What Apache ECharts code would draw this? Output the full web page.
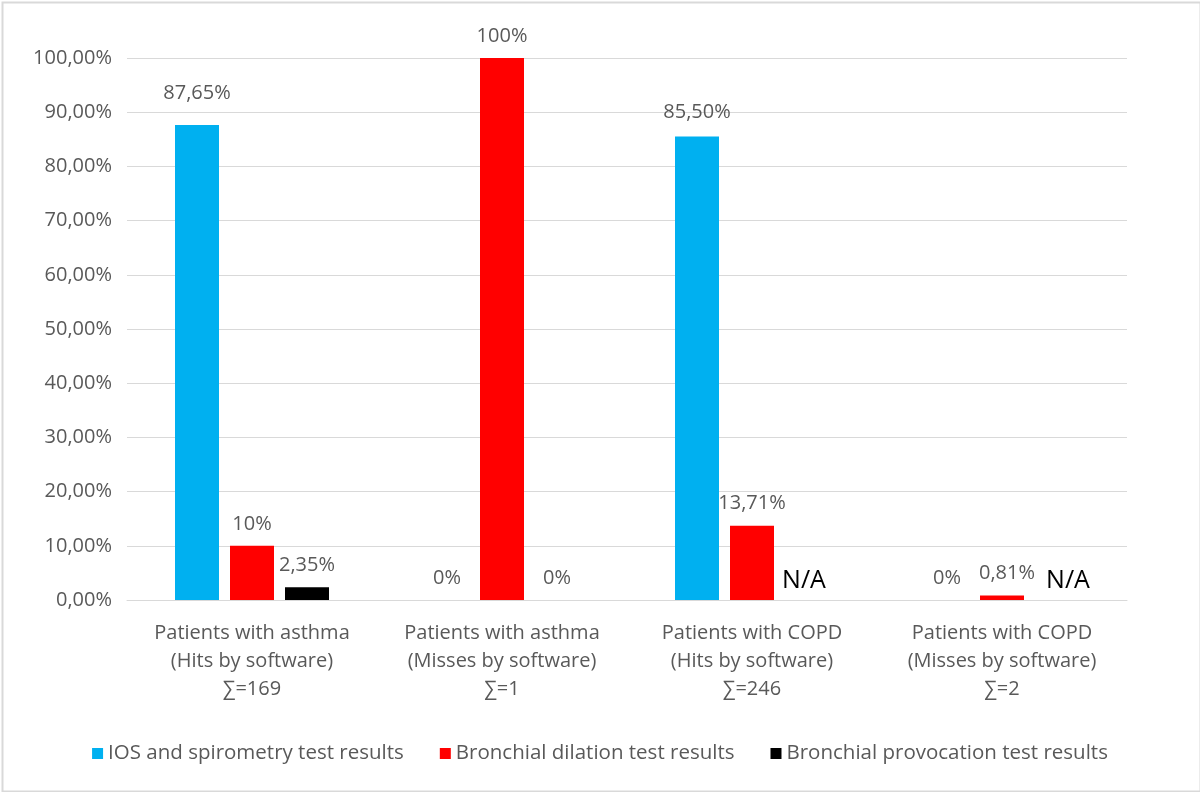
<!DOCTYPE html>
<html>
<head>
<meta charset="utf-8">
<script src="https://cdn.jsdelivr.net/npm/echarts@6/dist/echarts.min.js"></script>
<style>
html,body{margin:0;padding:0;background:#fff;}
#chart{width:1200px;height:792px;}
</style>
</head>
<body>
<div id="chart"></div>
<script>
const categories = [
  'Patients with asthma\n(Hits by software)\n∑=169',
  'Patients with asthma\n(Misses by software)\n∑=1',
  'Patients with COPD\n(Hits by software)\n∑=246',
  'Patients with COPD\n(Misses by software)\n∑=2'
];
const seriesNames = ['IOS and spirometry test results', 'Bronchial dilation test results', 'Bronchial provocation test results'];
const iosValues = [87.65, 0, 85.50, 0];
const dilationValues = [10, 100, 13.71, 0.81];
const provocationValues = [2.35, 0, 0, 0];
const iosLabels = ['87,65%', '0%', '85,50%', '0%'];
const dilationLabels = ['10%', '100%', '13,71%', '0,81%'];
const provocationLabels = ['2,35%', '0%', 'N/A', 'N/A'];
const yTicks = [0, 10, 20, 30, 40, 50, 60, 70, 80, 90, 100];

const FONT = '"Open Sans", sans-serif';
const colors = ['#00B0F0', '#FF0000', '#000000'];

function buildData(values, labels, extra) {
  return values.map((v, i) => {
    const lab = labels[i];
    const item = { value: v, label: { formatter: lab } };
    if (lab === 'N/A') {
      item.label.color = '#000';
      item.label.fontSize = 25;
      item.label.distance = 7;
    }
    if (extra && extra[i]) Object.assign(item.label, extra[i]);
    return item;
  });
}

const chart = echarts.init(document.getElementById('chart'));
chart.setOption({
  backgroundColor: '#fff',
  animation: false,
  textStyle: { fontFamily: FONT },
  graphic: [{
    type: 'rect', left: 0, top: 0,
    shape: { x: 0.5, y: 0.5, width: 1198, height: 789 },
    style: { fill: 'none', stroke: '#d9d9d9', lineWidth: 2 }
  }],
  grid: { left: 127, right: 73, top: 58, bottom: 192, containLabel: false },
  legend: {
    bottom: 23,
    left: 'center',
    itemWidth: 11, itemHeight: 11, itemGap: 36,
    icon: 'rect',
    textStyle: { fontSize: 20.5, color: '#595959', fontFamily: FONT },
    data: seriesNames
  },
  xAxis: {
    type: 'category',
    data: categories,
    axisLine: { lineStyle: { color: '#d9d9d9', width: 1 } },
    axisTick: { show: false },
    axisLabel: { color: '#595959', fontSize: 20, lineHeight: 28, margin: 19, interval: 0, fontFamily: FONT }
  },
  yAxis: {
    type: 'value', min: 0, max: 100, interval: 10,
    axisLine: { show: false },
    axisTick: { show: false },
    splitLine: { lineStyle: { color: '#d9d9d9', width: 1 } },
    axisLabel: {
      color: '#595959', fontSize: 20, margin: 15, fontFamily: FONT,
      formatter: v => yTicks.includes(v) ? v.toFixed(2).replace('.', ',') + '%' : ''
    }
  },
  series: [
    {
      name: seriesNames[0], type: 'bar', barWidth: 44, barGap: '25%',
      itemStyle: { color: colors[0] },
      label: { show: true, position: 'top', distance: 12, color: '#595959', fontSize: 20, fontFamily: FONT },
      data: buildData(iosValues, iosLabels, [{ distance: 22 }, null, { distance: 14 }, null])
    },
    {
      name: seriesNames[1], type: 'bar', barWidth: 44,
      itemStyle: { color: colors[1] },
      label: { show: true, position: 'top', distance: 12, color: '#595959', fontSize: 20, fontFamily: FONT },
      data: buildData(dilationValues, dilationLabels, [null, null, null, { offset: [5, 0] }])
    },
    {
      name: seriesNames[2], type: 'bar', barWidth: 44,
      itemStyle: { color: colors[2] },
      label: { show: true, position: 'top', distance: 12, color: '#595959', fontSize: 20, fontFamily: FONT },
      data: buildData(provocationValues, provocationLabels, [null, null, { offset: [-3, 0] }, { offset: [11, 0] }])
    }
  ]
});
</script>
</body>
</html>
